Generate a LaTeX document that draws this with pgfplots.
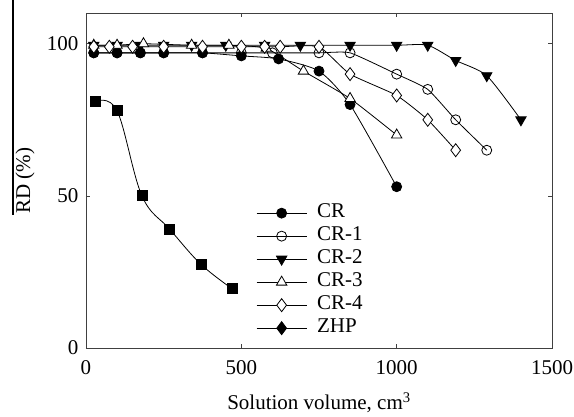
\documentclass[border=0pt]{standalone}
\usepackage{fontspec}
\setmainfont{Liberation Serif}
\usepackage{pgfplots}
\pgfplotsset{compat=1.18}
\begin{document}
\begin{tikzpicture}
\path[use as bounding box] (-86bp,-69bp) rectangle (488bp,348bp);
\draw[line width=1.2bp] (-73bp,133bp) -- (-73bp,348bp);
\begin{axis}[
  at={(0,0)}, anchor=origin,
  scale only axis, width=466bp, height=334.7bp,
  xmin=0, xmax=1500, ymin=0, ymax=110,
  xtick={0,500,1000,1500}, ytick={0,50,100},
  tick align=inside, major tick length=4bp,
  axis line style={line width=0.8bp, black!75},
  tick style={black!75, line width=0.6bp},
  /pgf/number format/assume math mode=true,
  /pgf/number format/1000 sep={},
  ticklabel style={font=\fontsize{21bp}{24bp}\selectfont},
  xticklabel style={yshift=-9bp},
  yticklabel style={xshift=-4bp},
  label style={font=\fontsize{21bp}{24bp}\selectfont},
  xlabel={Solution volume, cm\textsuperscript{3}},
  ylabel={RD (\%)},
  xlabel style={at={(axis description cs:0.5,-0.1852)}, anchor=base},
  ylabel style={at={(axis description cs:-0.131,0.5)}, anchor=center},
  legend style={draw=none, fill=none, at={(axis cs:548,48.1)}, anchor=north west,
    inner sep=0pt, outer sep=0pt, row sep=0pt,
    font=\fontsize{21bp}{24bp}\selectfont,
    nodes={text height=13bp, text depth=4bp, inner sep=3bp},
    /tikz/every odd column/.append style={column sep=7bp}},
  legend cell align=left,
  legend image code/.code={\draw[mark repeat=2,mark phase=2,#1] plot coordinates {(0bp,0bp) (25bp,0bp) (50bp,0bp)};},
  every axis plot/.append style={black, line width=0.8bp},
]
% ZHP
\addplot[smooth, tension=0.6, mark=square*, mark size=5bp, forget plot] coordinates {
(30,81) (100,78) (180,50) (270,39) (370,27.5) (470,19.5)};
% CR
\addplot[smooth, tension=0.4, mark=*, mark size=5bp] coordinates {
(25,97) (100,97) (175,97) (250,97) (375,97) (500,96) (620,95) (750,91) (850,80) (1000,53)};
\addlegendentry{CR}
% CR-1
\addplot[smooth, tension=0.3, mark=o, mark size=5bp, mark options={fill=white}] coordinates {
(25,97) (100,97) (175,97) (250,97) (375,97) (500,97) (600,97) (750,97) (850,97) (1000,90) (1100,85) (1190,75) (1290,65)};
\addlegendentry{CR-1}
% CR-2
\addplot[smooth, tension=0.4, mark=triangle*, mark size=6bp, mark options={rotate=180}] coordinates {
(25,99.5) (100,99.5) (175,99.5) (250,99.5) (340,99.5) (450,99.5) (575,99.5) (690,99.5) (850,99.5) (1000,99.5) (1100,99.5) (1190,94.5) (1290,89.5) (1400,75)};
\addlegendentry{CR-2}
% CR-3
\addplot[smooth, tension=0.3, mark=triangle*, mark size=6bp, mark options={fill=white}] coordinates {
(25,99.5) (100,99.5) (185,100) (340,99.5) (460,99.5) (580,98.5) (700,91) (850,82) (1000,70)};
\addlegendentry{CR-3}
% CR-4
\addplot[smooth, tension=0.3, mark=diamond*, mark size=6.5bp, mark options={fill=white}] coordinates {
(25,99) (75,99) (150,99) (250,99) (375,99) (500,99) (575,99) (625,99) (750,99) (850,90) (1000,83) (1100,75) (1190,65)};
\addlegendentry{CR-4}
\addlegendimage{black, line width=0.8bp, mark=diamond*, mark size=6.5bp}
\addlegendentry{ZHP}
\end{axis}
\end{tikzpicture}
\end{document}
